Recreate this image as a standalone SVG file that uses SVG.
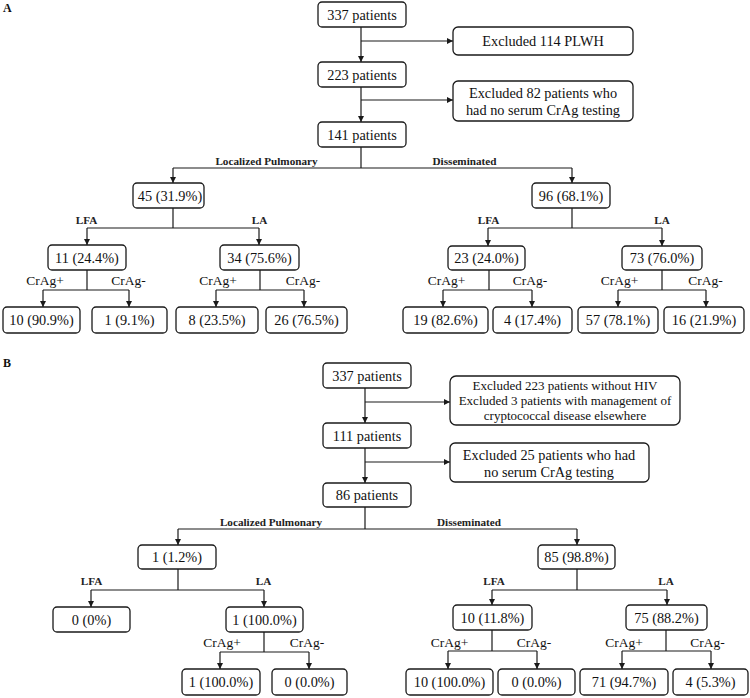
<svg xmlns="http://www.w3.org/2000/svg" width="750" height="698" viewBox="0 0 750 698">
<style>
.b{fill:#fff;stroke:#1a1a1a;stroke-width:1.3}
.t{font-family:"Liberation Serif","Times New Roman",serif;font-size:14.3px;fill:#111;text-anchor:middle}
.s13{font-size:13px}
.l{font-family:"Liberation Serif","Times New Roman",serif;font-size:11.2px;font-weight:bold;fill:#222;text-anchor:middle}
.c{font-family:"Liberation Serif","Times New Roman",serif;font-size:13.5px;fill:#111;text-anchor:middle}
.p{font-family:"Liberation Serif","Times New Roman",serif;font-size:12px;font-weight:bold;fill:#111}
.k{fill:none;stroke:#1a1a1a;stroke-width:1.2}
.a{fill:none;stroke:#1a1a1a;stroke-width:1.2;marker-end:url(#ah)}
</style>
<defs>
<marker id="ah" markerUnits="userSpaceOnUse" markerWidth="6" markerHeight="6" refX="6" refY="3" orient="auto">
<path d="M0,0 L6,3 L0,6 z" fill="#1a1a1a"/>
</marker>
</defs>
<rect width="750" height="698" fill="#fff"/>
<text class="p" x="3" y="12">A</text>
<text class="p" x="3" y="367">B</text>

<g id="connectors">
<!-- Panel A -->
<path class="a" d="M361,27 V62"/>
<path class="a" d="M361,41 H453"/>
<path class="a" d="M361,87 V122"/>
<path class="a" d="M361,100 H453"/>
<path class="k" d="M361,147 V168 M173,168 H572"/>
<path class="a" d="M173,168 V183"/>
<path class="a" d="M572,168 V183"/>
<path class="k" d="M173,208 V228 M87,228 H259"/>
<path class="a" d="M87,228 V245"/>
<path class="a" d="M259,228 V245"/>
<path class="k" d="M87,270 V290 M43,290 H129"/>
<path class="a" d="M43,290 V307"/>
<path class="a" d="M129,290 V307"/>
<path class="k" d="M260,270 V290 M216,290 H304"/>
<path class="a" d="M216,290 V307"/>
<path class="a" d="M304,290 V307"/>
<path class="k" d="M572,208 V228 M488,228 H662"/>
<path class="a" d="M488,228 V246"/>
<path class="a" d="M662,228 V246"/>
<path class="k" d="M489,270 V290 M443,290 H532"/>
<path class="a" d="M443,290 V307"/>
<path class="a" d="M532,290 V307"/>
<path class="k" d="M662,270 V290 M618,290 H706"/>
<path class="a" d="M618,290 V307"/>
<path class="a" d="M706,290 V307"/>
<!-- Panel B -->
<path class="a" d="M365,388 V423"/>
<path class="a" d="M365,402 H450"/>
<path class="a" d="M365,448 V483"/>
<path class="a" d="M365,462 H450"/>
<path class="k" d="M365,507 V529 M178,529 H577"/>
<path class="a" d="M178,529 V545"/>
<path class="a" d="M577,529 V545"/>
<path class="k" d="M178,569 V590 M91,590 H264"/>
<path class="a" d="M91,590 V607"/>
<path class="a" d="M264,590 V607"/>
<path class="k" d="M264,632 V652 M220,652 H309"/>
<path class="a" d="M220,652 V669"/>
<path class="a" d="M309,652 V669"/>
<path class="k" d="M577,569 V590 M492,590 H667"/>
<path class="a" d="M492,590 V605"/>
<path class="a" d="M667,590 V605"/>
<path class="k" d="M492,630 V651 M448,651 H537"/>
<path class="a" d="M448,651 V669"/>
<path class="a" d="M537,651 V669"/>
<path class="k" d="M666,630 V651 M622,651 H711"/>
<path class="a" d="M622,651 V669"/>
<path class="a" d="M711,651 V669"/>
</g>

<g id="labels">
<text class="l" x="266.5" y="165">Localized Pulmonary</text>
<text class="l" x="464.5" y="165">Disseminated</text>
<text class="l" x="86.5" y="224">LFA</text>
<text class="l" x="259.5" y="224">LA</text>
<text class="l" x="488.5" y="224">LFA</text>
<text class="l" x="662" y="224">LA</text>
<text class="c" x="45" y="285">CrAg+</text>
<text class="c" x="128.5" y="285">CrAg-</text>
<text class="c" x="218" y="285">CrAg+</text>
<text class="c" x="303" y="285">CrAg-</text>
<text class="c" x="446.5" y="285">CrAg+</text>
<text class="c" x="530" y="285">CrAg-</text>
<text class="c" x="619.5" y="285">CrAg+</text>
<text class="c" x="705.5" y="285">CrAg-</text>
<text class="l" x="271" y="526">Localized Pulmonary</text>
<text class="l" x="469" y="526">Disseminated</text>
<text class="l" x="91.5" y="585">LFA</text>
<text class="l" x="263.5" y="585">LA</text>
<text class="l" x="494" y="585">LFA</text>
<text class="l" x="666" y="585">LA</text>
<text class="c" x="222" y="646.5">CrAg+</text>
<text class="c" x="307" y="646.5">CrAg-</text>
<text class="c" x="449.5" y="647">CrAg+</text>
<text class="c" x="534" y="647">CrAg-</text>
<text class="c" x="624" y="647">CrAg+</text>
<text class="c" x="707.5" y="647">CrAg-</text>
</g>

<!-- Panel A nodes -->
<g id="a337"><rect class="b" x="318" y="2" width="88" height="25" rx="4"/><text class="t" x="362" y="19.5">337 patients</text></g>
<g id="aex1"><rect class="b" x="453" y="27" width="180" height="28" rx="5"/><text class="t" x="543" y="46">Excluded 114 PLWH</text></g>
<g id="a223"><rect class="b" x="318" y="62" width="88" height="25" rx="4"/><text class="t" x="362" y="79.5">223 patients</text></g>
<g id="aex2"><rect class="b" x="453" y="81" width="180" height="40" rx="5"/><text class="t" x="543" y="98">Excluded 82 patients who</text><text class="t" x="543" y="115">had no serum CrAg testing</text></g>
<g id="a141"><rect class="b" x="318" y="122" width="88" height="25" rx="4"/><text class="t" x="362" y="139.5">141 patients</text></g>
<g id="a45"><rect class="b" x="133" y="183" width="71" height="25" rx="4"/><text class="t" x="170" y="200.5">45 (31.9%)</text></g>
<g id="a96"><rect class="b" x="532" y="183" width="78" height="25" rx="4"/><text class="t" x="571" y="200.5">96 (68.1%)</text></g>
<g id="a11"><rect class="b" x="48" y="245" width="78" height="25" rx="4"/><text class="t" x="87" y="262.5">11 (24.4%)</text></g>
<g id="a34"><rect class="b" x="220" y="245" width="79" height="25" rx="4"/><text class="t" x="259.5" y="262.5">34 (75.6%)</text></g>
<g id="a23"><rect class="b" x="448" y="246" width="77" height="24" rx="4"/><text class="t" x="486.5" y="263">23 (24.0%)</text></g>
<g id="a73"><rect class="b" x="622" y="246" width="80" height="24" rx="4"/><text class="t" x="662" y="263">73 (76.0%)</text></g>
<g id="a10"><rect class="b" x="3" y="307" width="77" height="26" rx="4"/><text class="t" x="41.5" y="325">10 (90.9%)</text></g>
<g id="a1"><rect class="b" x="92" y="307" width="75" height="26" rx="4"/><text class="t" x="129.5" y="325">1 (9.1%)</text></g>
<g id="a8"><rect class="b" x="176" y="307" width="82" height="26" rx="4"/><text class="t" x="217" y="325">8 (23.5%)</text></g>
<g id="a26"><rect class="b" x="266" y="307" width="81" height="26" rx="4"/><text class="t" x="306.5" y="325">26 (76.5%)</text></g>
<g id="a19"><rect class="b" x="403" y="307" width="85" height="26" rx="4"/><text class="t" x="445.5" y="325">19 (82.6%)</text></g>
<g id="a4"><rect class="b" x="493" y="307" width="79" height="26" rx="4"/><text class="t" x="532.5" y="325">4 (17.4%)</text></g>
<g id="a57"><rect class="b" x="578" y="307" width="80" height="26" rx="4"/><text class="t" x="618" y="325">57 (78.1%)</text></g>
<g id="a16"><rect class="b" x="664" y="307" width="80" height="26" rx="4"/><text class="t" x="704" y="325">16 (21.9%)</text></g>

<!-- Panel B nodes -->
<g id="b337"><rect class="b" x="323" y="363" width="88" height="25" rx="4"/><text class="t" x="367" y="380.5">337 patients</text></g>
<g id="bex1"><rect class="b" x="450" y="376" width="230" height="49" rx="6"/><text class="t s13" x="565" y="389.5">Excluded 223 patients without HIV</text><text class="t s13" x="565" y="405">Excluded 3 patients with management of</text><text class="t s13" x="565" y="420">cryptococcal disease elsewhere</text></g>
<g id="b111"><rect class="b" x="323" y="423" width="88" height="25" rx="4"/><text class="t" x="367" y="440.5">111 patients</text></g>
<g id="bex2"><rect class="b" x="450" y="443" width="199" height="39" rx="5"/><text class="t" x="549" y="460">Excluded 25 patients who had</text><text class="t" x="549" y="476.5">no serum CrAg testing</text></g>
<g id="b86"><rect class="b" x="323" y="483" width="88" height="24" rx="4"/><text class="t" x="367" y="500">86 patients</text></g>
<g id="b1"><rect class="b" x="138" y="545" width="78" height="24" rx="4"/><text class="t" x="177" y="562">1 (1.2%)</text></g>
<g id="b85"><rect class="b" x="538" y="545" width="77" height="24" rx="4"/><text class="t" x="576.5" y="562">85 (98.8%)</text></g>
<g id="b0"><rect class="b" x="53" y="607" width="77" height="25" rx="4"/><text class="t" x="91.5" y="624.5">0 (0%)</text></g>
<g id="b1la"><rect class="b" x="226" y="607" width="77" height="25" rx="4"/><text class="t" x="264.5" y="624.5">1 (100.0%)</text></g>
<g id="b10"><rect class="b" x="453" y="605" width="79" height="25" rx="4"/><text class="t" x="492.5" y="622.5">10 (11.8%)</text></g>
<g id="b75"><rect class="b" x="626" y="605" width="81" height="25" rx="4"/><text class="t" x="666.5" y="622.5">75 (88.2%)</text></g>
<g id="b1p"><rect class="b" x="182" y="669" width="78" height="26" rx="4"/><text class="t" x="221" y="687">1 (100.0%)</text></g>
<g id="b0m"><rect class="b" x="272" y="669" width="75" height="26" rx="4"/><text class="t" x="309.5" y="687">0 (0.0%)</text></g>
<g id="b10p"><rect class="b" x="406" y="669" width="87" height="26" rx="4"/><text class="t" x="449.5" y="687">10 (100.0%)</text></g>
<g id="b0m2"><rect class="b" x="498" y="669" width="77" height="26" rx="4"/><text class="t" x="536.5" y="687">0 (0.0%)</text></g>
<g id="b71"><rect class="b" x="580" y="669" width="88" height="26" rx="4"/><text class="t" x="624" y="687">71 (94.7%)</text></g>
<g id="b4"><rect class="b" x="673" y="669" width="75" height="26" rx="4"/><text class="t" x="710.5" y="687">4 (5.3%)</text></g>
</svg>
